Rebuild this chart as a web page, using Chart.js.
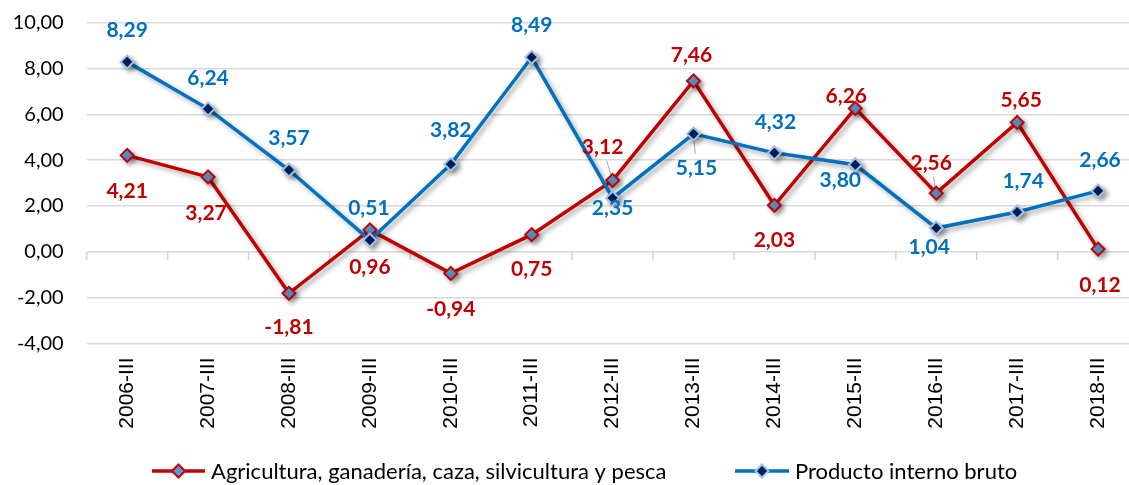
<!DOCTYPE html>
<html>
<head>
<meta charset="utf-8">
<script src="https://cdn.jsdelivr.net/npm/chart.js@4/dist/chart.umd.min.js"></script>
<style>
  html, body { margin: 0; padding: 0; background: #fff; overflow: hidden; }
  #wrap { width: 1147px; height: 485px; position: relative; }
</style>
</head>
<body>
<div id="wrap"><canvas id="c"></canvas></div>
<script>
// ---- data ----
const categories = ['2006-III','2007-III','2008-III','2009-III','2010-III','2011-III','2012-III','2013-III','2014-III','2015-III','2016-III','2017-III','2018-III'];
const agricultura = [4.21, 3.27, -1.81, 0.96, -0.94, 0.75, 3.12, 7.46, 2.03, 6.26, 2.56, 5.65, 0.12];
const pib = [8.29, 6.24, 3.57, 0.51, 3.82, 8.49, 2.35, 5.15, 4.32, 3.80, 1.04, 1.74, 2.66];
const yTicks = [-4, -2, 0, 2, 4, 6, 8, 10];
const seriesNames = ['Agricultura, ganadería, caza, silvicultura y pesca', 'Producto interno bruto'];

// ---- label placement (style only: pixel offsets from each point) ----
const agriLabelOffsets = [[0,36],[-2,36],[0,34],[0,37],[0,36],[0,35],[-10,-33],[-2,-26],[0,35],[-9,-12],[-5,-30],[4,-22],[2,36]];
const pibLabelOffsets  = [[0,-32],[0,-31],[0,-32],[-1,-32],[0,-34],[0,-32],[0,10],[3,34],[1,-31],[-15,15],[-7,19],[6,-31],[2,-31]];
const agriLeaders = [6, 10];
const pibLeaders = [7];

const RED = '#C00000', BLUE = '#0070C0';
const fmt = v => v.toFixed(2).replace('.', ',');

const customPlugin = {
  id: 'custom',
  beforeDatasetsDraw(chart) {
    const ctx = chart.ctx;
    const x = chart.scales.x, y = chart.scales.y;
    const y0 = y.getPixelForValue(0);
    ctx.save();
    ctx.strokeStyle = '#d0d0d0';
    ctx.lineWidth = 1.5;
    for (let i = 0; i <= categories.length; i++) {
      const px = x.getPixelForValue(i - 0.5);
      ctx.beginPath(); ctx.moveTo(px, y0); ctx.lineTo(px, y0 + 8); ctx.stroke();
    }
    ctx.strokeStyle = '#a6a6a6';
    ctx.lineWidth = 1;
    const drawLeaders = (dsIndex, list, offs) => {
      const meta = chart.getDatasetMeta(dsIndex);
      list.forEach(i => {
        const p = meta.data[i];
        const [dx, dy] = offs[i];
        const d = Math.hypot(dx, dy);
        const ux = dx / d, uy = dy / d;
        ctx.beginPath();
        ctx.moveTo(p.x + ux * 6, p.y + uy * 6);
        ctx.lineTo(p.x + ux * (d - 14), p.y + uy * (d - 14));
        ctx.stroke();
      });
    };
    drawLeaders(0, agriLeaders, agriLabelOffsets);
    drawLeaders(1, pibLeaders, pibLabelOffsets);
    ctx.restore();
    ctx.save();
    ctx.shadowColor = 'rgba(0,0,0,0.35)';
    ctx.shadowBlur = 5;
    ctx.shadowOffsetX = 3;
    ctx.shadowOffsetY = 3;
  },
  afterDatasetsDraw(chart) {
    const ctx = chart.ctx;
    ctx.restore();
    ctx.save();
    ctx.font = 'bold 21px Lato, "Open Sans", sans-serif';
    ctx.textAlign = 'center';
    ctx.textBaseline = 'middle';
    const drawLabels = (dsIndex, vals, offs, color) => {
      const meta = chart.getDatasetMeta(dsIndex);
      ctx.fillStyle = color;
      meta.data.forEach((p, i) => {
        ctx.fillText(fmt(vals[i]), p.x + offs[i][0], p.y + offs[i][1]);
      });
    };
    drawLabels(0, agricultura, agriLabelOffsets, RED);
    drawLabels(1, pib, pibLabelOffsets, BLUE);
    ctx.restore();
  },
  afterDraw(chart) {
    const ctx = chart.ctx;
    const ly = 471;
    ctx.save();
    const item = (x0, x1, fill, border, color, text) => {
      ctx.strokeStyle = color;
      ctx.lineWidth = 3.5;
      ctx.beginPath(); ctx.moveTo(x0, ly); ctx.lineTo(x1, ly); ctx.stroke();
      const cx = (x0 + x1) / 2, r = 6.5;
      ctx.beginPath();
      ctx.moveTo(cx, ly - r); ctx.lineTo(cx + r, ly); ctx.lineTo(cx, ly + r); ctx.lineTo(cx - r, ly); ctx.closePath();
      ctx.fillStyle = fill; ctx.fill();
      ctx.lineWidth = 2; ctx.strokeStyle = border; ctx.stroke();
      ctx.fillStyle = '#000';
      ctx.font = '22px Lato, "Open Sans", sans-serif';
      ctx.textAlign = 'left';
      ctx.textBaseline = 'middle';
      ctx.fillText(text, x1 + 6, ly + 1);
    };
    item(152, 205, '#5B9BD5', RED, RED, seriesNames[0]);
    item(735, 789, '#002060', '#9DC3E6', BLUE, seriesNames[1]);
    ctx.restore();
  }
};

new Chart(document.getElementById('c'), {
  type: 'line',
  data: {
    labels: categories,
    datasets: [
      {
        label: seriesNames[0],
        data: agricultura,
        borderColor: RED,
        borderWidth: 3.5,
        pointStyle: 'rectRot',
        pointRadius: 6.5,
        pointBackgroundColor: '#5B9BD5',
        pointBorderColor: RED,
        pointBorderWidth: 2,
        tension: 0,
        order: 1
      },
      {
        label: seriesNames[1],
        data: pib,
        borderColor: BLUE,
        borderWidth: 3.5,
        pointStyle: 'rectRot',
        pointRadius: 6.5,
        pointBackgroundColor: '#002060',
        pointBorderColor: '#9DC3E6',
        pointBorderWidth: 2,
        tension: 0,
        order: 0
      }
    ]
  },
  options: {
    responsive: true,
    maintainAspectRatio: false,
    animation: false,
    layout: { padding: { top: 22.7, right: 5, left: 0, bottom: 0 } },
    plugins: { legend: { display: false }, tooltip: { enabled: false } },
    scales: {
      x: {
        type: 'category',
        offset: true,
        grid: { display: false, drawTicks: false },
        border: { display: false },
        ticks: {
          autoSkip: false,
          minRotation: 90,
          maxRotation: 90,
          padding: 14,
          color: '#000',
          font: { family: '"Liberation Sans", Arial, sans-serif', size: 21 }
        },
        afterFit(scale) { scale.height = 141.5; scale.paddingLeft = 0; scale.paddingRight = 0; }
      },
      y: {
        min: -4,
        max: 10,
        afterBuildTicks(scale) { scale.ticks = yTicks.map(v => ({ value: v })); },
        grid: { color: '#d9d9d9', lineWidth: 1.5, drawTicks: false },
        border: { display: false },
        ticks: {
          padding: 23,
          color: '#000',
          font: { family: 'Lato, "Open Sans", sans-serif', size: 20 },
          callback: v => fmt(v)
        },
        afterFit(scale) { scale.width = 86.7; scale.paddingTop = 0; scale.paddingBottom = 0; }
      }
    }
  },
  plugins: [customPlugin]
});
</script>
</body>
</html>
